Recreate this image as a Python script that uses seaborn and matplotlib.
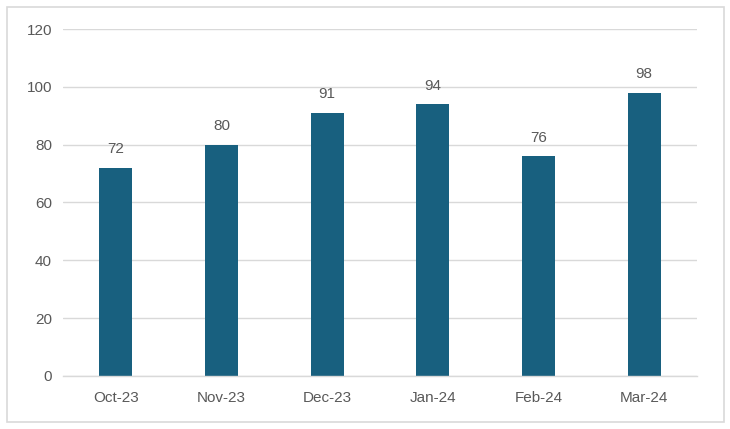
import matplotlib
matplotlib.use('Agg')
import matplotlib.pyplot as plt
import seaborn as sns
import pandas as pd
from matplotlib.patches import Rectangle
from matplotlib.ticker import FixedLocator

meses = ['Oct-23', 'Nov-23', 'Dec-23', 'Jan-24', 'Feb-24', 'Mar-24']
valores = [72, 80, 91, 94, 76, 98]

sns.set_style('white')
plt.rcParams['font.family'] = ['Liberation Sans', 'DejaVu Sans']

gris_texto = '#595959'
gris_linea = '#d9d9d9'
color_barra = '#18607f'

df = pd.DataFrame({'mes': meses, 'valor': valores})

fig = plt.figure(figsize=(7.3, 4.29), dpi=100)
ax = fig.add_axes([0.0863, 0.1240, 0.8685, 0.8084])

sns.barplot(data=df, x='mes', y='valor', color=color_barra, width=0.31,
            saturation=1, linewidth=0, ax=ax)

# etiquetas encima de cada barra
for i, v in enumerate(valores):
    ax.text(i, v + 4, str(v), ha='center', va='bottom', fontsize=11, color=gris_texto)

ax.set_ylim(0, 120)
ax.set_xlim(-0.5, len(meses) - 0.5)
ax.set_yticks(range(0, 121, 20))
ax.yaxis.grid(True, color=gris_linea, linewidth=1)
ax.set_axisbelow(True)
ax.set_xlabel('')
ax.set_ylabel('')

for s in ['top', 'right', 'left']:
    ax.spines[s].set_visible(False)
ax.spines['bottom'].set_color(gris_linea)
ax.spines['bottom'].set_linewidth(1)

ax.tick_params(axis='y', length=0, labelsize=11, labelcolor=gris_texto, pad=8)
ax.tick_params(axis='x', which='major', length=0, labelsize=11, labelcolor=gris_texto, pad=11)
ax.xaxis.set_minor_locator(FixedLocator([i - 0.5 for i in range(len(meses) + 1)]))
ax.tick_params(axis='x', which='minor', length=6, color=gris_linea, width=1)

# borde exterior
fig.patches.append(Rectangle((7 / 730, 7 / 429), 717 / 730, 415 / 429, transform=fig.transFigure,
                             fill=False, edgecolor=gris_linea, linewidth=1.2))

fig.savefig('out.png', dpi=100)
